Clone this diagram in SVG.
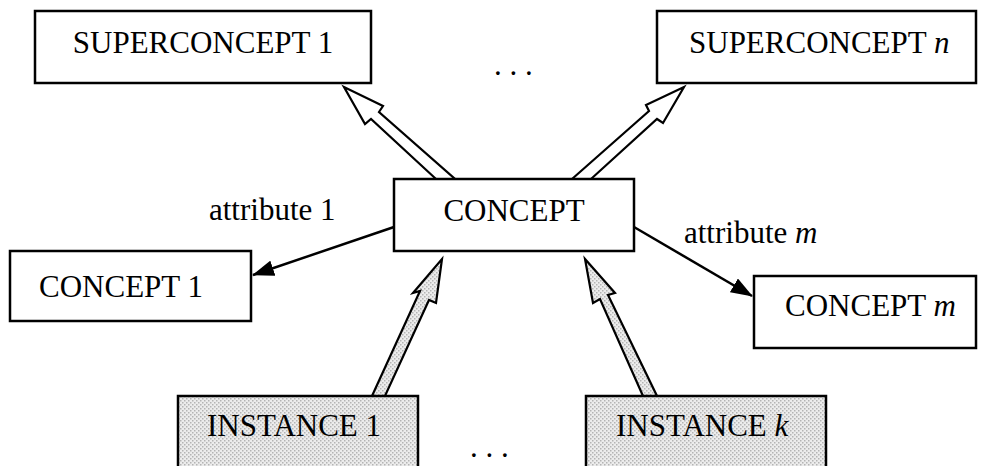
<svg xmlns="http://www.w3.org/2000/svg" width="981" height="466" viewBox="0 0 981 466">
  <style>
    .box { fill: #ffffff; stroke: #000000; stroke-width: 2.5; }
    .inst { fill: url(#stipple); stroke: #000000; stroke-width: 2.5; }
    .lbl { font-family: "Liberation Serif", "Times New Roman", serif; font-size: 31px; fill: #000000; }
    .it { font-style: italic; }
    .hollow { fill: #ffffff; stroke: #000000; stroke-width: 2.2; stroke-linejoin: miter; }
    .dotted { fill: url(#stipple); stroke: #000000; stroke-width: 2.2; stroke-linejoin: miter; }
    .rel { fill: none; stroke: #000000; stroke-width: 2.5; }
  </style>
  <defs>
    <pattern id="stipple" width="4" height="4" patternUnits="userSpaceOnUse">
      <rect width="4" height="4" fill="#ececec"/>
      <rect x="0" y="0" width="1.5" height="1.5" fill="#b4b4b4"/>
      <rect x="2" y="2" width="1.5" height="1.5" fill="#b4b4b4"/>
    </pattern>
    <marker id="headBig" markerWidth="22" markerHeight="16" refX="21" refY="8" orient="auto" markerUnits="userSpaceOnUse" viewBox="0 0 22 16">
      <path d="M0,0 L22,8 L0,16 Z" fill="#000000"/>
    </marker>
  </defs>

  <g id="connectors">
    <!-- generalisation arrows towards the superconcepts -->
    <path class="hollow" d="M436,179 L371,119 L365,124 L344,87 L383,106 L379,112 L455,179 Z"/>
    <path class="hollow" d="M572,179 L649,111 L646,105 L684,87 L663,123 L657,119 L591,179 Z"/>
    <!-- instance-of arrows -->
    <path class="dotted" d="M372,396 L420,291 L413,293 L442,259 L436,303 L429,300 L385,396 Z"/>
    <path class="dotted" d="M643,396 L600,299 L593,303 L585,259 L615,293 L608,295 L657,396 Z"/>
    <!-- attribute relations -->
    <line class="rel" x1="394" y1="227" x2="253" y2="275" marker-end="url(#headBig)"/>
    <line class="rel" x1="634" y1="227" x2="752" y2="296" marker-end="url(#headBig)"/>
  </g>

  <g id="superconcept1">
    <rect class="box" x="35" y="11" width="336" height="72"/>
    <text class="lbl" x="203" y="53" text-anchor="middle">SUPERCONCEPT 1</text>
  </g>

  <g id="superconceptN">
    <rect class="box" x="657" y="11" width="319" height="72"/>
    <text class="lbl" x="689" y="53">SUPERCONCEPT <tspan class="it">n</tspan></text>
  </g>

  <g id="concept">
    <rect class="box" x="394" y="179" width="240" height="72"/>
    <text class="lbl" x="514" y="221" text-anchor="middle">CONCEPT</text>
  </g>

  <g id="concept1">
    <rect class="box" x="10" y="251" width="241" height="70"/>
    <text class="lbl" x="39" y="297">CONCEPT 1</text>
  </g>

  <g id="conceptM">
    <rect class="box" x="754" y="276" width="222" height="72"/>
    <text class="lbl" x="785" y="316">CONCEPT <tspan class="it">m</tspan></text>
  </g>

  <g id="instance1">
    <rect class="inst" x="178" y="396" width="240" height="80"/>
    <text class="lbl" x="207" y="436">INSTANCE 1</text>
  </g>

  <g id="instanceK">
    <rect class="inst" x="586" y="396" width="240" height="80"/>
    <text class="lbl" x="616" y="436">INSTANCE <tspan class="it">k</tspan></text>
  </g>

  <g id="labels">
    <text class="lbl" x="209" y="220">attribute 1</text>
    <text class="lbl" x="684" y="243">attribute <tspan class="it">m</tspan></text>
    <text class="lbl" x="494" y="75">. . .</text>
    <text class="lbl" x="470" y="457">. . .</text>
  </g>
</svg>
